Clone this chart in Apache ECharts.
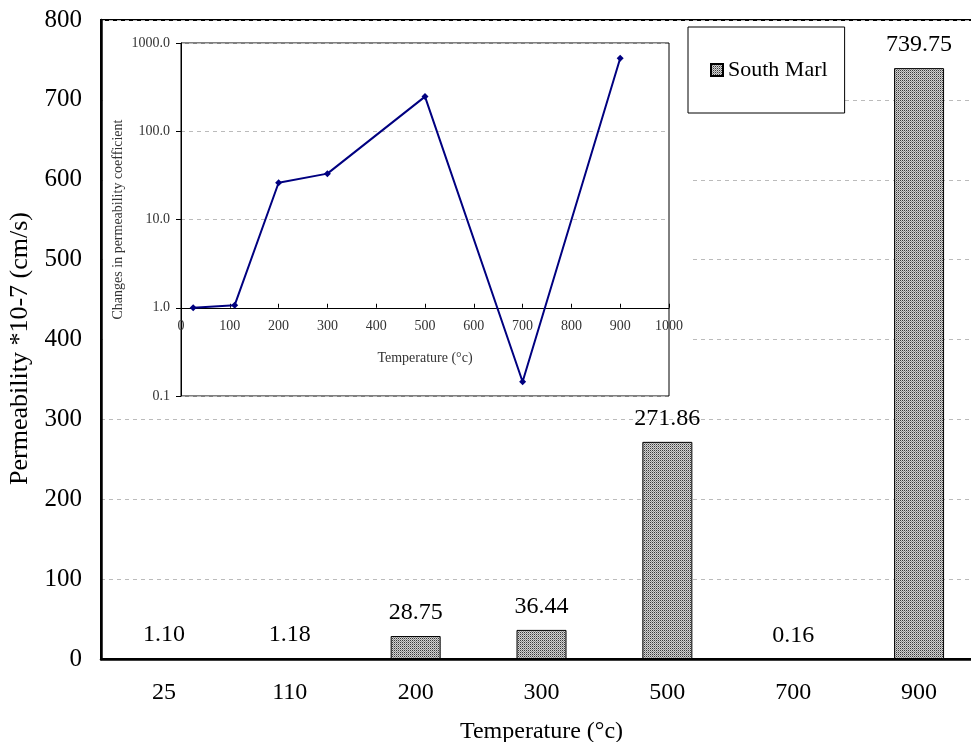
<!DOCTYPE html>
<html>
<head>
<meta charset="utf-8">
<script src="https://cdn.jsdelivr.net/npm/echarts@6/dist/echarts.min.js"></script>
<style>html,body{margin:0;padding:0;background:#fff;}#c{width:971px;height:742px;}</style>
</head>
<body>
<div id="c"></div>
<script>
// ---- data ----
const categories = ['25', '110', '200', '300', '500', '700', '900'];
const permeability = [1.10, 1.18, 28.75, 36.44, 271.86, 0.16, 739.75];
const insetTemps = [25, 110, 200, 300, 500, 700, 900];
const insetChanges = [1.0, 1.07, 26.1, 33.1, 247, 0.145, 672];
const seriesName = 'South Marl';

function makePattern() {
  const c = document.createElement('canvas');
  c.width = 2; c.height = 2;
  const ctx = c.getContext('2d');
  ctx.fillStyle = '#d2d2d2'; ctx.fillRect(0, 0, 2, 2);
  ctx.fillStyle = '#3a3a3a'; ctx.fillRect(0, 0, 1, 1);
  ctx.fillStyle = '#909090'; ctx.fillRect(1, 1, 1, 1);
  return c;
}
const pattern = { image: makePattern(), repeat: 'repeat' };

const serif = 'Liberation Serif';
const insetTop = 43, insetHeight = 353;
const logMin = 0.1, logMax = 1000;
const crossOffset = -insetHeight * (Math.log10(1) - Math.log10(logMin)) / (Math.log10(logMax) - Math.log10(logMin));

const chart = echarts.init(document.getElementById('c'));
chart.setOption({
  backgroundColor: '#fff',
  animation: false,
  textStyle: { fontFamily: serif },
  legend: {
    left: 688, top: 27,
    padding: [32, 17, 32, 22],
    backgroundColor: '#fff',
    borderColor: '#000', borderWidth: 1,
    itemWidth: 12, itemHeight: 12,
    icon: 'rect',
    textStyle: { fontFamily: serif, fontSize: 22, color: '#000' },
    data: [seriesName]
  },
  graphic: [{
    type: 'rect', z: 1, silent: true,
    shape: { x: 103, y: 22, width: 587, height: 388 },
    style: { fill: '#fff' }
  }],
  grid: [
    { left: 101, top: 20, width: 881, height: 639, outerBoundsMode: 'none', show: true, borderColor: '#000', borderWidth: 2, containLabel: false },
    { left: 181, top: insetTop, width: 488, height: insetHeight, outerBoundsMode: 'none', show: true, borderColor: '#000', borderWidth: 1, z: 2 }
  ],
  xAxis: [
    {
      type: 'category', data: categories, gridIndex: 0,
      axisLine: { lineStyle: { color: '#000', width: 2.5 } },
      axisTick: { show: false },
      axisLabel: { fontFamily: serif, fontSize: 24, color: '#000', margin: 22 },
      name: 'Temperature (°c)', nameLocation: 'middle', nameGap: 61,
      nameTextStyle: { fontFamily: serif, fontSize: 24, color: '#000' }
    },
    {
      type: 'value', gridIndex: 1, min: 0, max: 1000, interval: 100, z: 3,
      position: 'bottom', offset: crossOffset,
      axisLine: { onZero: false, lineStyle: { color: '#000', width: 1 } },
      axisTick: { inside: true, length: 4, lineStyle: { color: '#000' } },
      axisLabel: { fontFamily: serif, fontSize: 14, color: '#333', margin: 12, formatter: v => String(v) },
      splitLine: { show: false },
      name: 'Temperature (°c)', nameLocation: 'middle', nameGap: 44,
      nameTextStyle: { fontFamily: serif, fontSize: 14, color: '#333' }
    }
  ],
  yAxis: [
    {
      type: 'value', gridIndex: 0, min: 0, max: 800, interval: 100,
      axisLine: { show: true, lineStyle: { color: '#000', width: 2.5 } },
      axisTick: { show: false },
      axisLabel: { fontFamily: serif, fontSize: 25, color: '#000', margin: 19 },
      splitLine: { show: true, lineStyle: { color: '#bbb', type: [4, 4], width: 1 } },
      name: 'Permeability *10-7 (cm/s)', nameLocation: 'middle', nameGap: 66,
      nameTextStyle: { fontFamily: serif, fontSize: 26, color: '#000', padding: [0, 18, 0, 0] }
    },
    {
      type: 'log', gridIndex: 1, logBase: 10, min: logMin, max: logMax, z: 3,
      axisLine: { show: true, lineStyle: { color: '#000', width: 1 } },
      axisTick: { show: true, length: 5, lineStyle: { color: '#000' } },
      axisLabel: { fontFamily: serif, fontSize: 14, color: '#333', margin: 11,
        formatter: v => Number(v).toFixed(1) },
      splitLine: { show: true, lineStyle: { color: '#bbb', type: [4, 4], width: 1 } },
      minorTick: { show: false },
      name: 'Changes in permeability coefficient', nameLocation: 'middle', nameGap: 56,
      nameMoveOverlap: false,
      nameTextStyle: { fontFamily: serif, fontSize: 14, color: '#333' }
    }
  ],
  series: [
    {
      name: seriesName, type: 'bar', xAxisIndex: 0, yAxisIndex: 0,
      data: permeability, barWidth: 50,
      itemStyle: { color: pattern, borderColor: '#000', borderWidth: 1 },
      label: { show: true, position: 'top', distance: 11, fontFamily: serif, fontSize: 24, color: '#000',
        formatter: p => p.value.toFixed(2) }
    },
    {
      name: 'inset', type: 'line', xAxisIndex: 1, yAxisIndex: 1, z: 5,
      data: insetTemps.map((t, i) => [t, insetChanges[i]]),
      symbol: 'diamond', symbolSize: 7,
      lineStyle: { color: '#000080', width: 2 },
      itemStyle: { color: '#000080' }
    }
  ]
});
</script>
</body>
</html>
